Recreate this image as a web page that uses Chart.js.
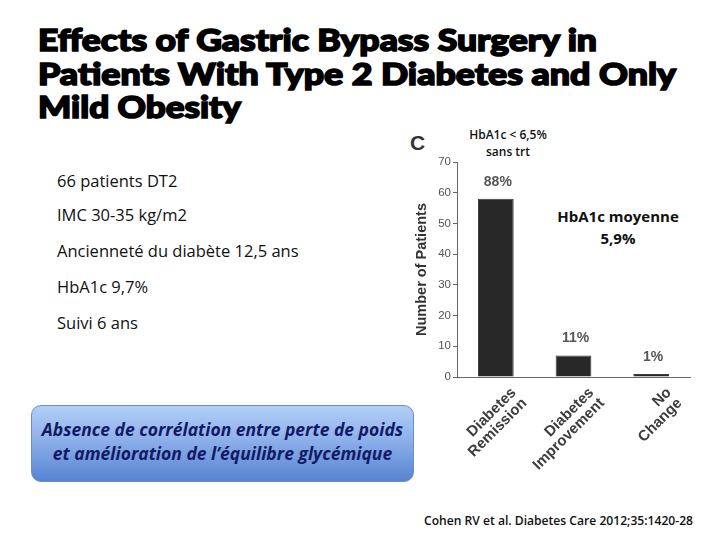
<!DOCTYPE html>
<html>
<head>
<meta charset="utf-8">
<script src="https://cdn.jsdelivr.net/npm/chart.js@4/dist/chart.umd.min.js"></script>
<style>
  html, body { margin:0; padding:0; background:#fff; }
  #page { position:relative; width:720px; height:540px; overflow:hidden; background:#fff; }
  .t { position:absolute; white-space:nowrap; }
  .title { left:38px; font-family:"Lato","DejaVu Sans",sans-serif; font-weight:900; font-size:31px; color:#000; -webkit-text-stroke:1.6px #000; transform-origin:0 50%; line-height:34px; height:34px; }
  .fit { transform-origin:0 50%; }
  .left { left:57px; font-family:"Open Sans","Noto Sans",sans-serif; font-size:16.5px; color:#111; height:24px; line-height:24px; }
  #box { position:absolute; left:31px; top:405px; width:383px; height:77px; border-radius:10px;
         background:linear-gradient(to bottom,#b2cef6 0%,#92b4ec 40%,#5683d2 100%); border:1px solid #6a8ecb; box-sizing:border-box; }
  #boxtext { position:absolute; left:31px; top:405px; width:383px; height:77px; text-align:center;
         font-family:"Open Sans","Noto Sans",sans-serif; font-style:italic; font-weight:700; font-size:17.5px; color:#121a66; line-height:24px; padding-top:12px; box-sizing:border-box; }
  #chartwrap { position:absolute; left:400px; top:150px; width:320px; height:330px; }
</style>
</head>
<body>
<div id="page">
  <div class="t title" style="top:22px">Effects of Gastric Bypass Surgery in</div>
  <div class="t title" style="top:56px">Patients With Type 2 Diabetes and Only</div>
  <div class="t title" style="top:89px">Mild Obesity</div>

  <div class="t left" style="top:169px">66 patients DT2</div>
  <div class="t left" style="top:203px">IMC 30-35 kg/m2</div>
  <div class="t left" style="top:239px">Ancienneté du diabète 12,5 ans</div>
  <div class="t left" style="top:275px">HbA1c 9,7%</div>
  <div class="t left" style="top:311px">Suivi 6 ans</div>

  <div id="box"></div>
  <div id="boxtext">Absence de corrélation entre perte de poids<br>et amélioration de l’équilibre glycémique</div>

  <div class="t" style="left:410px;top:131px;font-family:'Liberation Sans',Arial,sans-serif;font-weight:700;font-size:21px;color:#333;line-height:24px">C</div>
  <div class="t" style="left:458px;top:126px;width:100px;text-align:center;font-family:'Open Sans','Noto Sans',sans-serif;font-weight:600;font-size:12px;color:#111;line-height:17px">HbA1c &lt; 6,5%<br>sans trt</div>
  <div class="t" style="left:548px;top:205px;width:140px;text-align:center;font-family:'Open Sans','Noto Sans',sans-serif;font-weight:700;font-size:15px;color:#111;line-height:22px">HbA1c moyenne<br>5,9%</div>

  <div id="chartwrap"><canvas id="c"></canvas></div>

  <div class="t fit" id="cite" style="left:424px;top:511px;font-family:'Open Sans','Noto Sans',sans-serif;font-weight:600;font-size:12.5px;color:#111;line-height:20px">Cohen RV et al. Diabetes Care 2012;35:1420-28</div>
</div>
<script>
const categories = [["Diabetes","Remission"],["Diabetes","Improvement"],["No","Change"]];
const patients = [58, 7, 1];
const percentLabels = ["88%", "11%", "1%"];
const yTicks = [0, 10, 20, 30, 40, 50, 60, 70];

// fit text widths to the reference
const titleWidths = [559, 638, 203];
document.querySelectorAll('.title').forEach((el, i) => {
  const w = el.getBoundingClientRect().width;
  el.style.transform = 'scaleX(' + (titleWidths[i] / w) + ')';
});
(function(){
  const el = document.getElementById('cite');
  const w = el.getBoundingClientRect().width;
  el.style.transform = 'scaleX(' + (269 / w) + ')';
})();

const valueLabels = {
  id: 'valueLabels',
  afterDatasetsDraw(chart) {
    const ctx = chart.ctx;
    const meta = chart.getDatasetMeta(0);
    ctx.save();
    ctx.font = 'bold 14px "Liberation Sans", Arial, sans-serif';
    ctx.fillStyle = '#555';
    ctx.textAlign = 'center';
    ctx.textBaseline = 'bottom';
    meta.data.forEach((bar, i) => {
      ctx.fillText(percentLabels[i], bar.x + 2, bar.y - 10);
    });
    ctx.restore();
  }
};

new Chart(document.getElementById('c'), {
  type: 'bar',
  data: {
    labels: categories,
    datasets: [{ data: patients, backgroundColor: '#282828', borderColor: '#3a3a3a', borderWidth: 1, categoryPercentage: 1, barPercentage: 0.46 }]
  },
  options: {
    responsive: true,
    maintainAspectRatio: false,
    animation: false,
    layout: { padding: { top: 12, right: 30, left: 0, bottom: 0 } },
    plugins: { legend: { display: false }, tooltip: { enabled: false } },
    scales: {
      x: {
        grid: { display: false },
        border: { display: true, color: '#666', width: 1 },
        ticks: { color: '#3c3c3c', font: { family: '"Liberation Sans", Arial, sans-serif', size: 15, weight: 'bold', lineHeight: 1.0 }, maxRotation: 45, minRotation: 45, padding: 0, labelOffset: 18 },
        afterFit(s) { s.height = 103; }
      },
      y: {
        min: 0, max: 70,
        afterBuildTicks(s) { s.ticks = yTicks.map(v => ({ value: v })); },
        grid: { drawOnChartArea: false, drawTicks: true, tickLength: 4, color: '#666' },
        border: { display: true, color: '#666', width: 1 },
        ticks: { color: '#555', font: { family: '"Liberation Sans", Arial, sans-serif', size: 11.5 }, padding: 2 },
        title: { display: true, text: 'Number of Patients', color: '#333', font: { family: '"Liberation Sans", Arial, sans-serif', size: 14.5, weight: 'bold' }, padding: { top: 13, bottom: 0 } },
        afterFit(s) { s.width = 57; }
      }
    }
  },
  plugins: [valueLabels]
});
</script>
</body>
</html>
